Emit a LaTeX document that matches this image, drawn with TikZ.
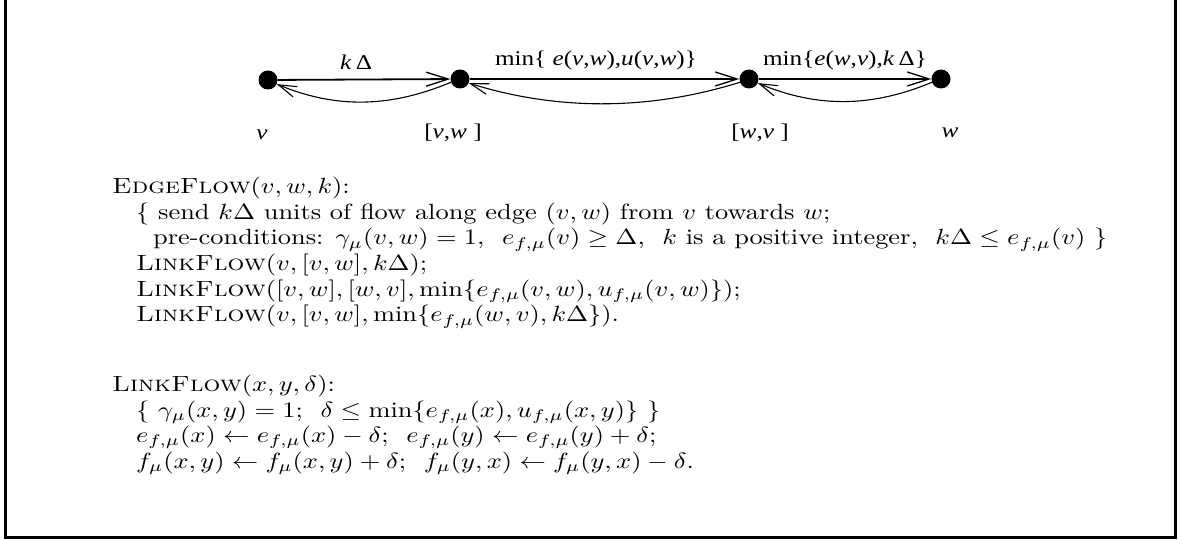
\documentclass[tikz,border=0pt]{standalone}
\usepackage{graphicx}
\usepackage{fontspec}
\newfontfamily\timesf{Liberation Serif}
\usetikzlibrary{arrows.meta}
\newcommand\bigtxt[1]{\scalebox{2.64}[2.2]{\fontsize{10}{12}\selectfont #1}}
\newcommand\lbltxt[1]{\scalebox{1.2}[1]{\timesf\fontsize{21}{24}\selectfont #1}}
\begin{document}
\begin{tikzpicture}[x=1pt,y=-1pt,
  dot/.style={circle,fill=black,inner sep=0pt,minimum size=19pt},
  lab/.style={inner sep=0pt},
  txt/.style={anchor=base west,inner sep=0pt},
  fwd/.style={line width=1.8pt,-{Straight Barb[length=22pt,width=14pt,line width=1.3pt]}},
  back/.style={line width=1.1pt,-{Straight Barb[length=18pt,width=11pt]}}]
\useasboundingbox (0,0) rectangle (1179,540);
\draw[line width=3pt] (5.5,-10) -- (5.5,537.5) -- (1175.5,537.5) -- (1175.5,-10);
% nodes
\node[dot] (v) at (268,80) {};
\node[dot] (vw) at (460,79) {};
\node[dot] (wv) at (749,79) {};
\node[dot] (w) at (941,79) {};
% forward edges
\draw[fwd] (v) -- (vw);
\draw[fwd] (vw) -- (wv);
\draw[fwd] (wv) -- (w);
% return edges
\draw[back] (vw.200) .. controls +(-60,25) and +(60,25) .. (v.-25);
\draw[back] (wv.200) .. controls +(-90,28) and +(90,28) .. (vw.-25);
\draw[back] (w.200) .. controls +(-60,25) and +(60,25) .. (wv.-25);
% labels
\node[lab] (l1) at (356,62) {\lbltxt{\textit{k}\,Δ}};
\node[lab] (l2) at (596,60) {\lbltxt{min\{ \textit{e}(\textit{v},\textit{w}),\textit{u}(\textit{v},\textit{w})\}}};
\node[lab] (l3) at (845,60) {\lbltxt{min\{\textit{e}(\textit{w},\textit{v}),\textit{k}\,Δ\}}};
\node[lab] (lv) at (262,135) {\lbltxt{\textit{v}}};
\node[lab] (lvw) at (453,133) {\lbltxt{[\textit{v},\textit{w}\ ]}};
\node[lab] (lwv) at (760,133) {\lbltxt{[\textit{w},\textit{v}\ ]}};
\node[lab] (lw) at (950,133) {\lbltxt{\textit{w}}};
% text
\node[txt] (t1) at (112,194) {\bigtxt{\textsc{EdgeFlow}$(v,w,k)$:}};
\node[txt] (t2) at (136,219.5) {\bigtxt{\{ send $k\Delta$ units of flow along edge $(v,w)$ from $v$ towards $w$;}};
\node[txt] (t3) at (153,245) {\bigtxt{pre-conditions: $\gamma_\mu(v,w)=1$,\ \ $e_{f,\mu}(v)\geq\Delta$,\ \ $k$ is a positive integer,\ \ $k\Delta\leq e_{f,\mu}(v)$ \}}};
\node[txt] (t4) at (136,271) {\bigtxt{\textsc{LinkFlow}$(v,[v,w],k\Delta)$;}};
\node[txt] (t5) at (136,296.5) {\bigtxt{\textsc{LinkFlow}$([v,w],[w,v],\min\{e_{f,\mu}(v,w),u_{f,\mu}(v,w)\})$;}};
\node[txt] (t6) at (136,322) {\bigtxt{\textsc{LinkFlow}$(v,[v,w],\min\{e_{f,\mu}(w,v),k\Delta\})$.}};
\node[txt] (t7) at (112,391) {\bigtxt{\textsc{LinkFlow}$(x,y,\delta)$:}};
\node[txt] (t8) at (136,417) {\bigtxt{\{ $\gamma_\mu(x,y)=1$;\ \ $\delta\leq\min\{e_{f,\mu}(x),u_{f,\mu}(x,y)\}$ \}}};
\node[txt] (t9) at (136,442) {\bigtxt{$e_{f,\mu}(x)\leftarrow e_{f,\mu}(x)-\delta$;\ \ $e_{f,\mu}(y)\leftarrow e_{f,\mu}(y)+\delta$;}};
\node[txt] (t10) at (136,468) {\bigtxt{$f_\mu(x,y)\leftarrow f_\mu(x,y)+\delta$;\ \ $f_\mu(y,x)\leftarrow f_\mu(y,x)-\delta$.}};
\end{tikzpicture}
\end{document}
